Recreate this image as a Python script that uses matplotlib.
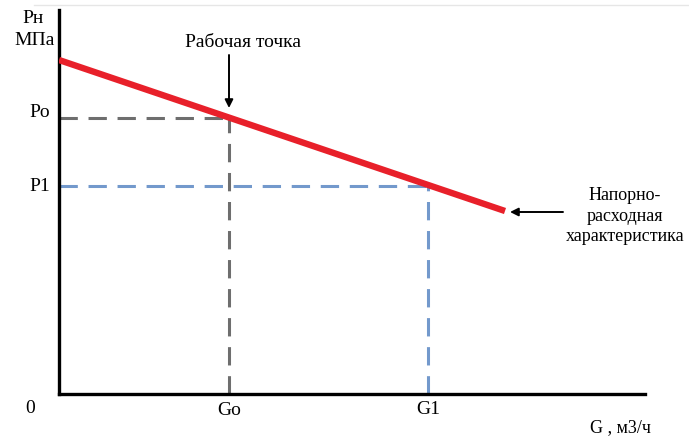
import matplotlib
matplotlib.use("Agg")
from matplotlib import pyplot as plt
from matplotlib.lines import Line2D

# characteristic line (G, P) in relative units
G_line = [0, 446]
P_line = [334, 183]
# working point and second point
G0, P0 = 170, 276
G1, P1 = 369, 208

plt.rcParams["font.family"] = ["Liberation Serif", "DejaVu Serif"]

fig = plt.figure(figsize=(6.89, 4.36), dpi=100)
ax = fig.add_axes([59 / 689, 42 / 436, 586 / 689, 384 / 436])
ax.set_xlim(0, 586)
ax.set_ylim(0, 384)
for s in ("top", "right"):
    ax.spines[s].set_visible(False)
for s in ("left", "bottom"):
    ax.spines[s].set_linewidth(2.4)
    ax.spines[s].set_color("black")
ax.set_xticks([])
ax.set_yticks([])

# faint border line at the top
fig.add_artist(Line2D([0.05, 1.0], [1 - 5 / 436, 1 - 5 / 436], color="#e6e6e6", lw=1))

# dashed guides
ax.plot([0, G0], [P0, P0], color="#6e6e6e", lw=2.2, dashes=(6, 3.5), zorder=2)
ax.plot([G0, G0], [0, P0], color="#6e6e6e", lw=2.2, dashes=(6, 3.5), zorder=2)
ax.plot([0, G1], [P1, P1], color="#7399cc", lw=2.2, dashes=(6, 3.5), zorder=2)
ax.plot([G1, G1], [0, P1], color="#7399cc", lw=2.2, dashes=(6, 3.5), zorder=2)

# pressure-flow characteristic
ax.plot(G_line, P_line, color="#e8202a", lw=4.6, solid_capstyle="butt", zorder=3)

fs = 14
# axis labels
ax.text(-26, 376, "Рн", fontsize=fs, ha="center", va="center", clip_on=False)
ax.text(-24, 354, "МПа", fontsize=fs, ha="center", va="center", clip_on=False)
ax.text(-9, P0 + 6, "Pо", fontsize=fs, ha="right", va="center", clip_on=False)
ax.text(-9, P1, "P1", fontsize=fs, ha="right", va="center", clip_on=False)
ax.text(-29, -14, "0", fontsize=fs, ha="center", va="center", clip_on=False)
ax.text(G0, -16, "Gо", fontsize=fs, ha="center", va="center", clip_on=False)
ax.text(G1, -15, "G1", fontsize=fs, ha="center", va="center", clip_on=False)
ax.text(561, -34, "G , м3/ч", fontsize=13, ha="center", va="center", clip_on=False)

# annotations
ax.text(184, 352, "Рабочая точка", fontsize=14, ha="center", va="center")
ax.annotate("", xy=(G0, P0 + 10), xytext=(G0, 339),
            arrowprops=dict(arrowstyle="-|>", color="black", lw=1.4,
                            shrinkA=0, shrinkB=0, mutation_scale=12))
ax.annotate("", xy=(G_line[1] + 5, 182), xytext=(504, 182),
            arrowprops=dict(arrowstyle="-|>", color="black", lw=1.4,
                            shrinkA=0, shrinkB=0, mutation_scale=12))
ax.text(566, 178, "Напорно-\nрасходная\nхарактеристика", fontsize=13,
        ha="center", va="center", linespacing=1.25, clip_on=False)

fig.savefig("out.png", dpi=100)
